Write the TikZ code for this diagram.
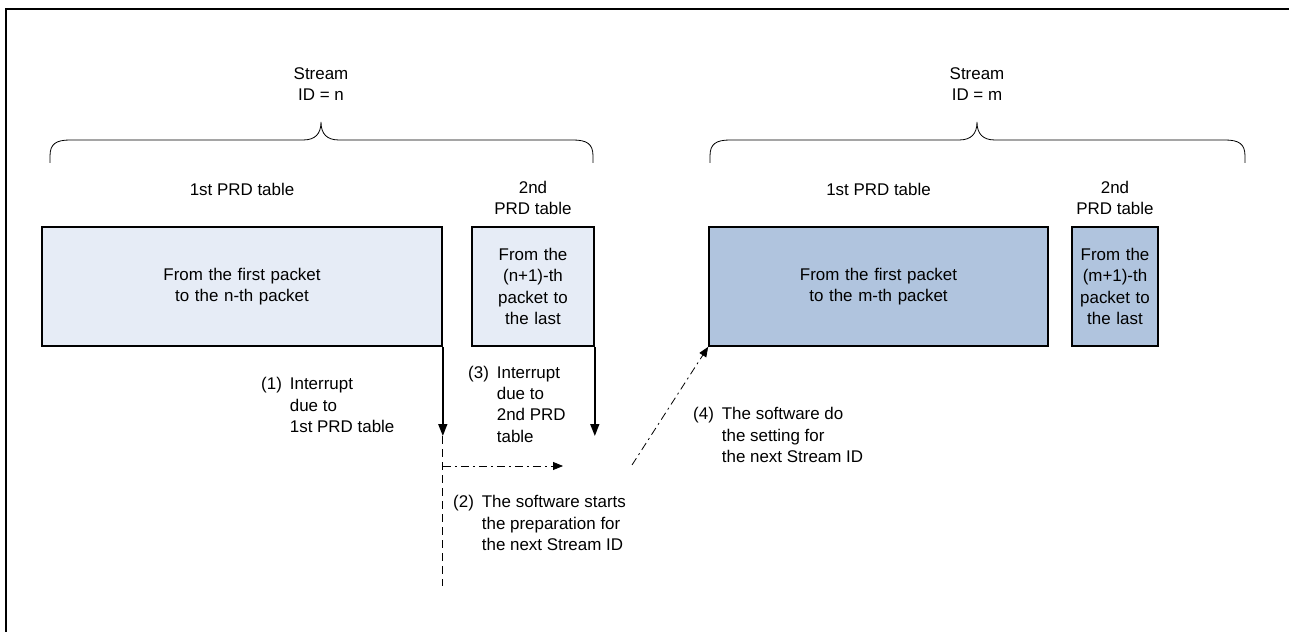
\documentclass[tikz,border=0pt]{standalone}
\usepackage{fontspec}
\setmainfont{Liberation Sans}
\usetikzlibrary{arrows.meta}
\definecolor{lightbox}{HTML}{E6ECF6}
\definecolor{darkbox}{HTML}{B0C4DE}
\begin{document}
\begin{tikzpicture}[x=1bp,y=-1bp,
  every node/.style={inner sep=0pt,font=\fontsize{17}{21.5}\selectfont},
  box/.style={draw=black,line width=1.6bp,minimum height=119bp,align=center,text width=#1},
  lbox/.style={box=#1,fill=lightbox},
  dbox/.style={box=#1,fill=darkbox},
  brc/.style={line width=0.8bp},
  thickarrow/.style={line width=1.6bp,-{Triangle[width=9bp,length=12bp]}},
  dasharrow/.style={line width=0.8bp,dash pattern=on 8bp off 4bp on 2bp off 4bp,-{Triangle[width=8bp,length=10bp]}},
  dashline/.style={line width=0.8bp,dash pattern=on 8bp off 5bp},
  lbl/.style={anchor=west,align=left}
]
\useasboundingbox (0,0) rectangle (1289,632);
% frame
\draw[line width=2bp] (6,632) -- (6,9) -- (1289,9);

% braces
\draw[brc] (50,163) -- (50,156) .. controls (50,144) and (56,140) .. (70,140) -- (303,140)
  .. controls (315,140) and (321,134) .. (321,122)
  .. controls (321,134) and (327,140) .. (339,140) -- (573,140)
  .. controls (587,140) and (593,144) .. (593,156) -- (593,163);
\draw[brc] (710,163) -- (710,156) .. controls (710,144) and (716,140) .. (730,140) -- (959,140)
  .. controls (971,140) and (977,134) .. (977,122)
  .. controls (977,134) and (983,140) .. (995,140) -- (1225,140)
  .. controls (1239,140) and (1245,144) .. (1245,156) -- (1245,163);

\node[align=center] (sn) at (321,84) {Stream\\ID = n};
\node[align=center] (sm) at (977,84) {Stream\\ID = m};

% boxes
\node[lbox=390bp,minimum width=400bp] (b1) at (242,286.5) {From the first packet\\to the n-th packet};
\node[lbox=110bp,minimum width=122bp] (b2) at (533,286.5) {From the\\(n+1)-th\\packet to\\the last};
\node[dbox=330bp,minimum width=339bp] (b3) at (878.5,286.5) {From the first packet\\to the m-th packet};
\node[dbox=80bp,minimum width=86bp] (b4) at (1115,286.5) {From the\\(m+1)-th\\packet to\\the last};

\node[align=center] (t1) at (242,189) {1st PRD table};
\node[align=center] (t2) at (533,198) {2nd\\PRD table};
\node[align=center] (t3) at (878.5,189) {1st PRD table};
\node[align=center] (t4) at (1115,198) {2nd\\PRD table};

% coordinates
\coordinate (a1) at (b1.south east |- 0,436);
\coordinate (a3) at (b2.south east |- 0,436);
\coordinate (d0) at (b1.south east |- 0,466);
\coordinate (d1) at (563,466);
\coordinate (dend) at (b1.south east |- 0,586);
\coordinate (g0) at (632,465);

% arrows
\draw[thickarrow] (b1.south east) -- (a1);
\draw[thickarrow] (b2.south east) -- (a3);
\draw[dashline] (a1) -- (dend);
\draw[dasharrow] (d0) -- (d1);
\draw[dasharrow] (g0) -- (b3.south west);

% labels
\node[lbl] (l1) at (261,407) {\begin{tabular}{@{}l@{\hspace{8bp}}l@{}}(1)&Interrupt\\&due to\\&1st PRD table\end{tabular}};
\node[lbl] (l3) at (468,406) {\begin{tabular}{@{}l@{\hspace{8bp}}l@{}}(3)&Interrupt\\&due to\\&2nd PRD\\&table\end{tabular}};
\node[lbl] (l2) at (453,525) {\begin{tabular}{@{}l@{\hspace{8bp}}l@{}}(2)&The software starts\\&the preparation for\\&the next Stream ID\end{tabular}};
\node[lbl] (l4) at (693,437) {\begin{tabular}{@{}l@{\hspace{8bp}}l@{}}(4)&The software do\\&the setting for\\&the next Stream ID\end{tabular}};
\end{tikzpicture}
\end{document}
